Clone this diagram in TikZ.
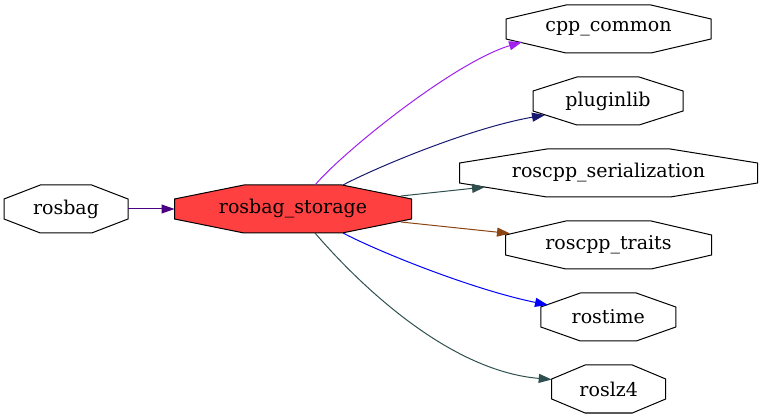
\documentclass[tikz,border=0pt]{standalone}
\usepackage{fontspec}
\setmainfont{DejaVu Serif}
\usetikzlibrary{arrows.meta}
\definecolor{gvpurple}{HTML}{A020F0}
\definecolor{gvmidnight}{HTML}{191970}
\definecolor{gvslate}{HTML}{2F4F4F}
\definecolor{gvbrown}{HTML}{8B4513}
\definecolor{gvblue}{HTML}{0000FF}
\definecolor{gvindigo}{HTML}{4B0082}
\definecolor{gvred}{HTML}{FF4040}
\newcommand{\octnode}[6]{%
  \node[box, minimum width=#4pt] (#1) at (#2,#3) {};
  \pgfmathsetmacro{\octa}{#4/2}%
  \pgfmathsetmacro{\octb}{0.414*#4/2}%
  \draw[octline, fill=#5]
    ([shift={(-\octa,-10)}]#1.center) -- ([shift={(-\octb,-24)}]#1.center) --
    ([shift={(\octb,-24)}]#1.center) -- ([shift={(\octa,-10)}]#1.center) --
    ([shift={(\octa,10)}]#1.center) -- ([shift={(\octb,24)}]#1.center) --
    ([shift={(-\octb,24)}]#1.center) -- ([shift={(-\octa,10)}]#1.center) -- cycle;
  \node[lbl] at (#1.center) {#6};
}
\begin{document}
\begin{tikzpicture}[x=1pt,y=-1pt,
  box/.style={rectangle, draw=none, inner sep=0pt, outer sep=0pt, minimum height=48pt},
  octline/.style={draw=black, line width=1pt, line join=miter},
  lbl/.style={inner sep=0pt, font=\fontsize{19}{22}\selectfont},
  e/.style={line width=1pt, -{Triangle[length=13pt,width=9pt]}}]
\useasboundingbox (0,0) rectangle (763,419);
\octnode{rb}{66}{209}{124}{white}{rosbag}
\octnode{st}{293}{209}{237}{gvred}{rosbag\_storage}
\octnode{cpp}{608.5}{29}{205}{white}{cpp\_common}
\octnode{pl}{608}{101}{150}{white}{pluginlib}
\octnode{ser}{608.5}{173}{298}{white}{roscpp\_serialization}
\octnode{tr}{608.5}{245}{206}{white}{roscpp\_traits}
\octnode{rt}{608.3}{317}{135}{white}{rostime}
\octnode{lz}{608.7}{389}{114}{white}{roslz4}

\draw[e, gvindigo] (rb.east) -- (st.west);
\draw[e, gvpurple] ([shift={(22,-24)}]st.center) .. controls (345,150) and (455,62) .. ([shift={(-86.5,13)}]cpp.center);
\draw[e, gvmidnight] ([shift={(50,-24)}]st.center) .. controls (375,168) and (470,128) .. ([shift={(-63,14)}]pl.center);
\draw[e, gvslate] ([shift={(108,-13)}]st.center) -- ([shift={(-123.5,14)}]ser.center);
\draw[e, gvbrown] ([shift={(108,13)}]st.center) -- ([shift={(-98.5,-11.5)}]tr.center);
\draw[e, gvblue] ([shift={(50,24)}]st.center) .. controls (375,250) and (470,289) .. ([shift={(-60.3,-12)}]rt.center);
\draw[e, gvslate] ([shift={(22,24)}]st.center) .. controls (345,268) and (440,370) .. ([shift={(-57,-9.5)}]lz.center);
\end{tikzpicture}
\end{document}
